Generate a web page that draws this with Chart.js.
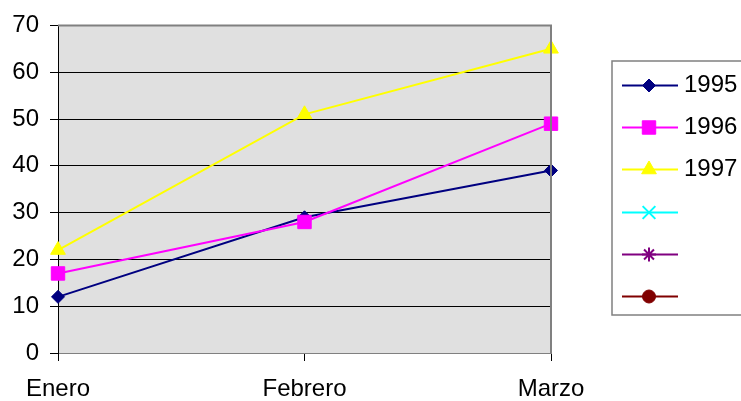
<!DOCTYPE html>
<html>
<head>
<meta charset="utf-8">
<script src="https://cdn.jsdelivr.net/npm/chart.js@4"></script>
<style>
  html, body { margin: 0; padding: 0; background: #ffffff; }
  #c { display: block; }
</style>
</head>
<body>
<canvas id="c" width="741" height="401"></canvas>
<script>
// Months on the category axis
const months = ['Enero', 'Febrero', 'Marzo'];

// Series values per year
const values1995 = [12, 29, 39];
const values1996 = [17, 28, 49];
const values1997 = [22, 51, 65];

// Legend entries (the last three are unlabelled, empty series)
const seriesLabels = ['1995', '1996', '1997', '', '', ''];
const seriesColors = ['#000080', '#ff00ff', '#ffff00', '#00ffff', '#800080', '#800000'];
const seriesMarkers = ['rectRot', 'rect', 'triangle', 'crossRot', 'star', 'circle'];
const markerSizes = [6.5, 9.5, 8.5, 9, 7, 6.5];

// Value axis range
const yMin = 0, yMax = 70, yStep = 10;

const FONT = "'Liberation Sans', Arial, sans-serif";
const seriesData = [values1995, values1996, values1997, [], [], []];

const datasets = seriesLabels.map((label, i) => ({
  label: label,
  data: seriesData[i],
  borderColor: seriesColors[i],
  backgroundColor: seriesColors[i],
  pointBackgroundColor: seriesColors[i],
  pointBorderColor: seriesColors[i],
  pointStyle: seriesMarkers[i],
  pointRadius: markerSizes[i],
  pointHoverRadius: markerSizes[i],
  pointBorderWidth: (seriesMarkers[i] === 'crossRot' || seriesMarkers[i] === 'star') ? 2 : 1,
  borderWidth: 2,
  tension: 0,
  fill: false,
  order: 10 - i
}));

// Grey plot area with a grey frame on the top and right sides
const plotBackground = {
  id: 'plotBackground',
  beforeDraw(chart) {
    const { ctx, chartArea: a } = chart;
    ctx.save();
    ctx.fillStyle = '#e0e0e0';
    ctx.fillRect(a.left, a.top, a.right - a.left, a.bottom - a.top);
    ctx.restore();
  },
  afterDatasetsDraw(chart) {
    const { ctx, chartArea: a } = chart;
    ctx.save();
    ctx.strokeStyle = '#808080';
    ctx.lineWidth = 2;
    ctx.beginPath();
    ctx.moveTo(a.left, a.top);
    ctx.lineTo(a.right, a.top);
    ctx.lineTo(a.right, a.bottom);
    ctx.stroke();
    ctx.restore();
  }
};

// Boxed legend on the right
const boxLegend = {
  id: 'boxLegend',
  afterDraw(chart) {
    const ctx = chart.ctx;
    const boxL = 612, boxT = 61, boxB = 315;
    ctx.save();
    ctx.strokeStyle = '#808080';
    ctx.lineWidth = 1.5;
    ctx.strokeRect(boxL, boxT, 200, boxB - boxT);
    const rowTop = 85, rowGap = 42.2;
    chart.data.datasets.forEach((ds, i) => {
      const y = Math.round(rowTop + i * rowGap) + 0.5;
      ctx.strokeStyle = ds.borderColor;
      ctx.lineWidth = 2;
      ctx.beginPath();
      ctx.moveTo(622, y);
      ctx.lineTo(678, y);
      ctx.stroke();
      ctx.fillStyle = ds.pointBackgroundColor;
      ctx.strokeStyle = ds.pointBorderColor;
      ctx.lineWidth = ds.pointBorderWidth;
      Chart.helpers.drawPoint(ctx, {
        pointStyle: ds.pointStyle,
        radius: ds.pointRadius,
        rotation: 0,
        borderWidth: ds.pointBorderWidth
      }, 649, y);
      if (ds.label) {
        ctx.fillStyle = '#000000';
        ctx.font = '24px ' + FONT;
        ctx.textAlign = 'left';
        ctx.textBaseline = 'middle';
        ctx.fillText(ds.label, 684, y);
      }
    });
    ctx.restore();
  }
};

new Chart(document.getElementById('c'), {
  type: 'line',
  data: { labels: months, datasets: datasets },
  options: {
    responsive: false,
    animation: false,
    devicePixelRatio: 1,
    layout: { padding: { left: 0, top: 23, right: 190, bottom: 0 } },
    plugins: {
      legend: { display: false },
      tooltip: { enabled: false }
    },
    scales: {
      x: {
        type: 'category',
        offset: false,
        grid: {
          drawOnChartArea: false,
          drawTicks: true,
          tickLength: 8,
          color: '#000000',
          lineWidth: 1
        },
        border: { display: true, color: '#808080', width: 1 },
        ticks: {
          color: '#000000',
          font: { family: FONT, size: 24 },
          padding: 14,
          maxRotation: 0,
          autoSkip: false
        },
        afterFit(scale) { scale.height = 48; }
      },
      y: {
        min: yMin,
        max: yMax,
        ticks: {
          stepSize: yStep,
          color: '#000000',
          font: { family: FONT, size: 24 },
          padding: 11
        },
        grid: {
          drawTicks: true,
          tickLength: 8,
          color: (c) => (c.tick && (c.tick.value === yMax || c.tick.value === yMin)) ? '#808080' : '#000000',
          tickColor: '#000000',
          lineWidth: 1
        },
        border: { display: true, color: '#000000', width: 1 },
        afterFit(scale) { scale.width = 58; }
      }
    }
  },
  plugins: [plotBackground, boxLegend]
});
</script>
</body>
</html>
